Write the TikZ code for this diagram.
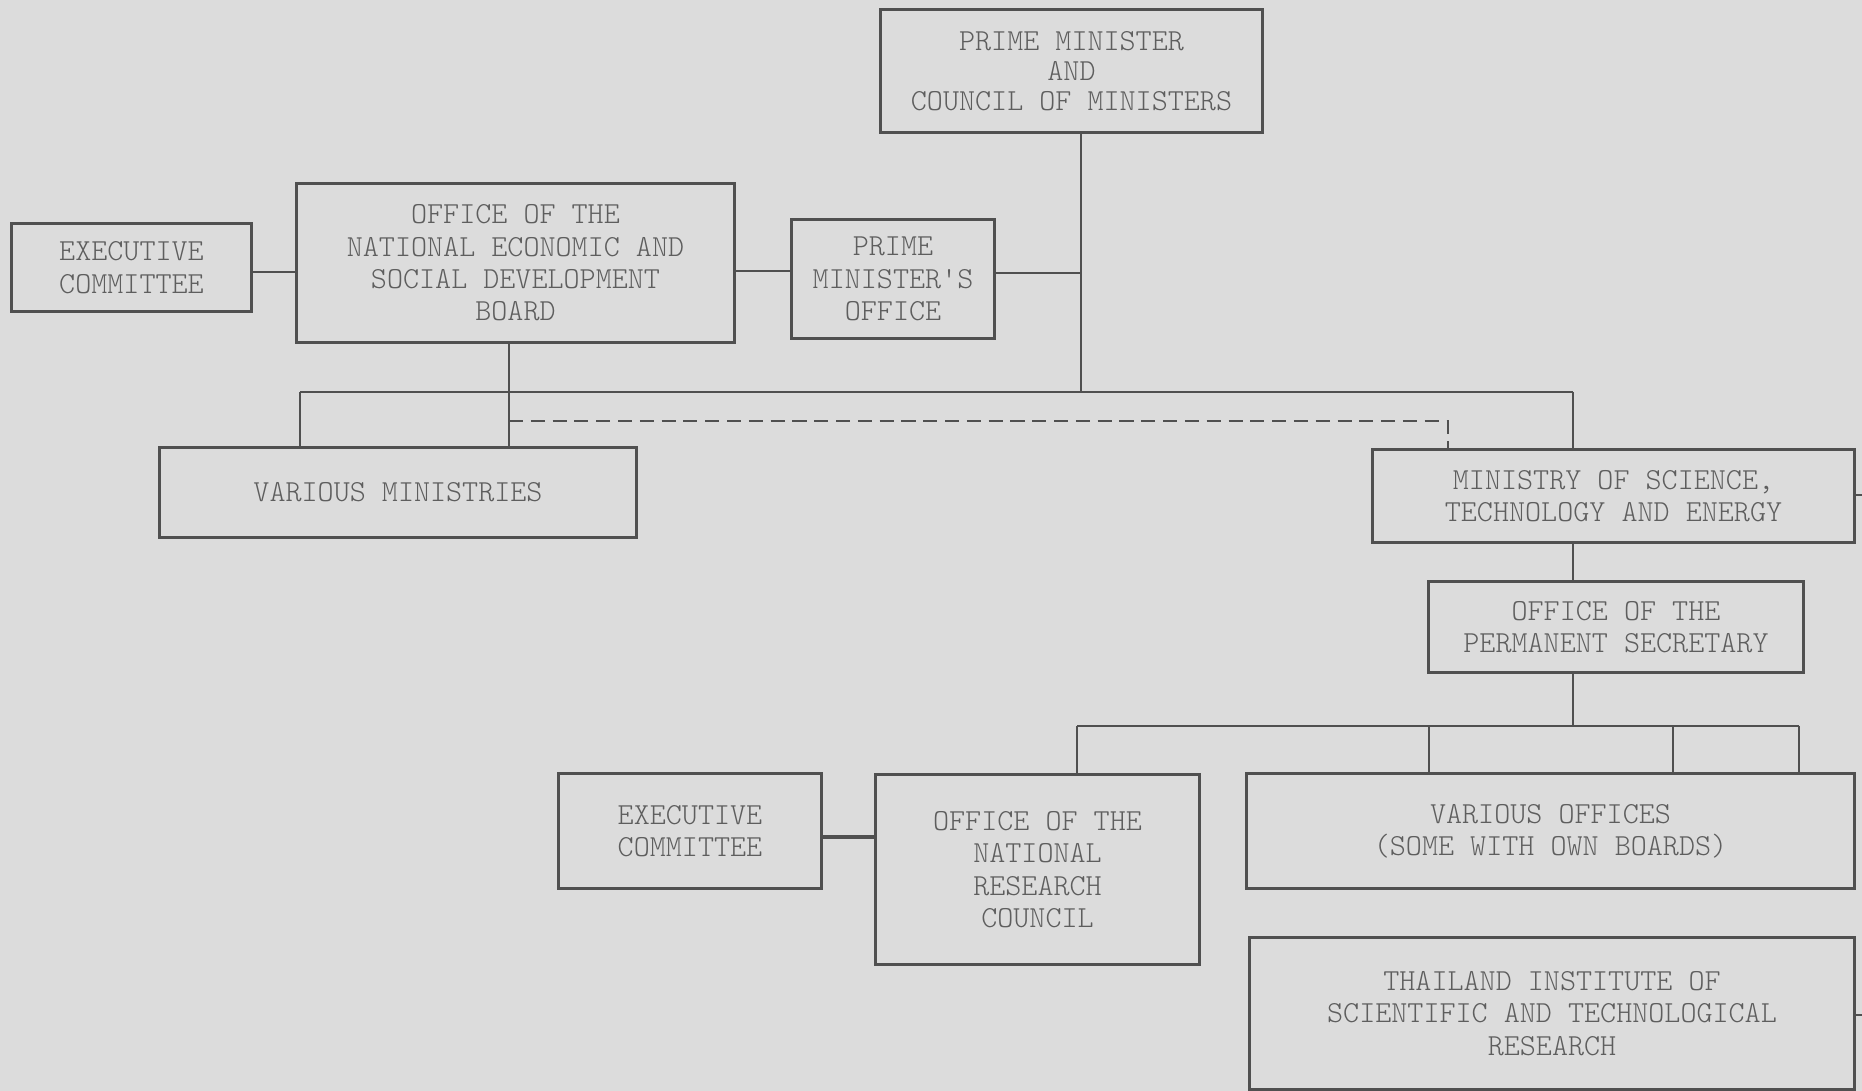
\documentclass[tikz,border=0pt]{standalone}
\usepackage{fontspec}
\newfontfamily\orgfont{lmmonolt10-regular.otf}
\definecolor{paper}{HTML}{DCDCDC}
\definecolor{ink}{HTML}{505050}
\definecolor{typed}{HTML}{5E5E5E}
\begin{document}
\begin{tikzpicture}[x=0.01cm, y=-0.01cm,
		unit/.style={draw=ink, line width=0.85pt, inner sep=0pt, align=center, text=typed, font=\orgfont\fontsize{8.7}{9.2}\selectfont},
		link/.style={draw=ink, line width=0.8pt}]
			\fill[paper] (0,0) rectangle (1862,1091);
			\useasboundingbox (0,0) rectangle (1862,1091);
			% boxes
			\node[unit, minimum width=3.81cm, minimum height=1.22cm, font=\orgfont\fontsize{8.7}{8.6}\selectfont] at (1071.5, 71) (pm) {PRIME MINISTER\\AND\\COUNCIL OF MINISTERS};
			\node[unit, minimum width=2.39cm, minimum height=0.87cm] at (131.5, 267.5) (exec1) {EXECUTIVE\\COMMITTEE};
			\node[unit, minimum width=4.37cm, minimum height=1.58cm] at (515.5, 263) (nesdb) {OFFICE OF THE\\NATIONAL ECONOMIC AND\\SOCIAL DEVELOPMENT\\BOARD};
			\node[unit, minimum width=2.02cm, minimum height=1.18cm] at (893, 279) (pmo) {PRIME\\MINISTER'S\\OFFICE};
			\node[unit, minimum width=4.76cm, minimum height=0.89cm] at (398, 492.5) (ministries) {VARIOUS MINISTRIES};
			\node[unit, minimum width=4.81cm, minimum height=0.92cm] at (1613.5, 496) (moste) {MINISTRY OF SCIENCE,\\TECHNOLOGY AND ENERGY};
			\node[unit, minimum width=3.74cm, minimum height=0.90cm] at (1616, 627) (ops) {OFFICE OF THE\\PERMANENT SECRETARY};
			\node[unit, minimum width=2.62cm, minimum height=1.14cm] at (690, 831) (exec2) {EXECUTIVE\\COMMITTEE};
			\node[unit, minimum width=3.23cm, minimum height=1.89cm] at (1037.5, 869.5) (nrc) {OFFICE OF THE\\NATIONAL\\RESEARCH\\COUNCIL};
			\node[unit, minimum width=6.07cm, minimum height=1.14cm] at (1550.5, 831) (offices) {VARIOUS OFFICES\\(SOME WITH OWN BOARDS)};
			\node[unit, minimum width=6.04cm, minimum height=1.51cm] at (1552, 1013.5) (tistr) {THAILAND INSTITUTE OF\\SCIENTIFIC AND TECHNOLOGICAL\\RESEARCH};
			% junctions
			\coordinate (top) at (1081, 392);
			\coordinate (barL) at (300, 392);
			\coordinate (barR) at (1573, 392);
			\coordinate (sub) at (1573, 726);
			\coordinate (subL) at (1077, 726);
			\coordinate (subR) at (1799, 726);
			\coordinate (dash) at (1448, 421);
			\coordinate (edge1) at (1862, 495);
			\coordinate (edge2) at (1862, 1015);
			% links
			\draw[link] (pm.south -| top) -- (top);
			\draw[link] (pmo.east |- 0,273) -- (top |- 0,273);
			\draw[link] (exec1.east |- 0,272) -- (nesdb.west |- 0,272);
			\draw[link] (nesdb.east |- 0,271) -- (pmo.west |- 0,271);
			\draw[link] (barL) -- (barR);
			\draw[link] (barL) -- (barL |- ministries.north);
			\draw[link] (nesdb.south -| 509,0) -- (ministries.north -| 509,0);
			\draw[link] (barR) -- (barR |- moste.north);
			\draw[link, dash pattern=on 4pt off 2.2pt] (509,421) -- (dash) -- (dash |- moste.north);
			\draw[link] (moste.south -| sub) -- (ops.north -| sub);
			\draw[link] (ops.south -| sub) -- (sub);
			\draw[link] (subL) -- (subR);
			\draw[link] (subL) -- (subL |- nrc.north);
			\draw[link] (1429,726) -- (1429,0 |- offices.north);
			\draw[link] (1673,726) -- (1673,0 |- offices.north);
			\draw[link] (subR) -- (subR |- offices.north);
			\draw[link, line width=1.4pt] (exec2.east |- 0,837) -- (nrc.west |- 0,837);
			\draw[link] (moste.east |- edge1) -- (edge1);
			\draw[link] (tistr.east |- edge2) -- (edge2);
		\end{tikzpicture}
\end{document}
